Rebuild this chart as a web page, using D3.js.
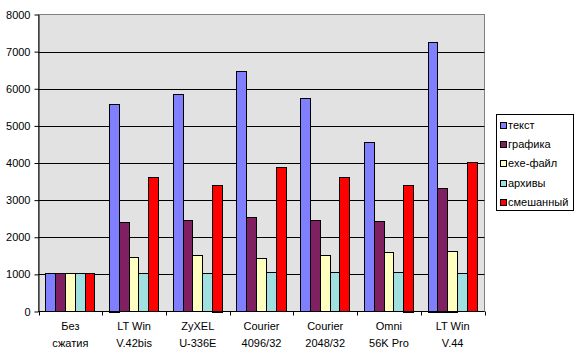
<!DOCTYPE html>
<html>
<head>
<meta charset="utf-8">
<script src="https://cdn.jsdelivr.net/npm/d3@7"></script>
<style>
  body { margin: 0; background: #fff; }
  text { font-family: "Liberation Sans", Arial, sans-serif; }
</style>
</head>
<body>
<svg id="chart" width="576" height="354"></svg>
<script>
let categories = [["Без", "сжатия"], ["LT Win", "V.42bis"], ["ZyXEL", "U-336E"], ["Courier", "4096/32"],
                  ["Courier", "2048/32"], ["Omni", "56K Pro"], ["LT Win", "V.44"]]
let seriesNames = ["текст", "графика", "exe-файл", "архивы", "смешанный"]
let colors = ["#8080FF", "#802060", "#FFFFC0", "#A0E0E0", "#FF0000"]

let text    = [1030, 5600, 5850, 6470, 5750, 4560, 7270]
let graphic = [1030, 2400, 2455, 2540, 2455, 2430, 3340]
let exe     = [1030, 1460, 1510, 1430, 1510, 1590, 1630]
let archive = [1030, 1030, 1030, 1055, 1055, 1055, 1030]
let mixed   = [1030, 3620, 3420, 3890, 3620, 3420, 4020]
let series = [text, graphic, exe, archive, mixed]

let yTicks = [0, 1000, 2000, 3000, 4000, 5000, 6000, 7000, 8000]

let svg = d3.select('#chart')
let plotL = 38.5, plotR = 484.5, plotT = 14.5, plotB = 311.5

let x = d3.scaleBand().domain(d3.range(categories.length)).range([plotL, plotR])
let inner = d3.scaleBand().domain(d3.range(series.length))
    .range([0, x.bandwidth()]).paddingOuter(0.75).paddingInner(0)
let y = d3.scaleLinear().domain([0, 8000]).range([plotB, plotT])

// plot background
svg.append('rect')
    .attr('x', plotL).attr('y', plotT)
    .attr('width', plotR - plotL).attr('height', plotB - plotT)
    .attr('fill', '#E2E2E2').attr('stroke', '#808080')

// gridlines
svg.selectAll('line.grid')
    .data(yTicks.filter(d => d > 0 && d < 8000))
    .enter()
    .append('line')
    .attr('x1', plotL).attr('x2', plotR)
    .attr('y1', d => Math.round(y(d)) + 0.5).attr('y2', d => Math.round(y(d)) + 0.5)
    .attr('stroke', '#000')

// bars (neighbouring bars share their border)
let barX0 = (i, si) => Math.floor(x(i) + inner(si))
let barX1 = (i, si) => Math.floor(x(i) + inner(si) + inner.bandwidth())
series.forEach((vals, si) => {
    svg.selectAll('rect.s' + si)
        .data(vals)
        .enter()
        .append('rect')
        .attr('x', (d, i) => barX0(i, si) + 0.5)
        .attr('y', d => Math.round(y(d)) + 0.5)
        .attr('width', (d, i) => barX1(i, si) - barX0(i, si))
        .attr('height', d => Math.round(plotB - y(d)))
        .attr('fill', colors[si])
        .attr('stroke', '#000')
})

// y axis
let yAxis = svg.append('g')
    .attr('transform', `translate(${plotL},0)`)
    .call(d3.axisLeft(y).tickValues(yTicks).tickFormat(d3.format('d')).tickSize(4).tickSizeOuter(0).tickPadding(4))
yAxis.select('.domain').attr('stroke', '#000')
yAxis.selectAll('line').attr('stroke', '#000')
yAxis.selectAll('text').attr('font-size', 11).attr('fill', '#000')
    .style('font-family', '"Liberation Sans", Arial, sans-serif')

// x axis
svg.append('line')
    .attr('x1', plotL).attr('x2', plotR).attr('y1', plotB).attr('y2', plotB)
    .attr('stroke', '#000')
svg.selectAll('line.xt')
    .data(d3.range(categories.length + 1))
    .enter()
    .append('line')
    .attr('x1', i => Math.round(plotL + i * x.step()) + 0.5)
    .attr('x2', i => Math.round(plotL + i * x.step()) + 0.5)
    .attr('y1', plotB).attr('y2', plotB + 4)
    .attr('stroke', '#000')

let labels = svg.selectAll('text.cat')
    .data(categories)
    .enter()
    .append('text')
    .attr('text-anchor', 'middle')
    .attr('font-size', 11)
labels.append('tspan').attr('x', (d, i) => x(i) + x.bandwidth() / 2).attr('y', 330).text(d => d[0])
labels.append('tspan').attr('x', (d, i) => x(i) + x.bandwidth() / 2).attr('y', 347).text(d => d[1])

// legend
let legend = svg.append('g')
legend.append('rect')
    .attr('x', 496.5).attr('y', 114.5).attr('width', 77).attr('height', 96)
    .attr('fill', '#fff').attr('stroke', '#000')
seriesNames.forEach((name, i) => {
    let yy = 125 + i * 19.2
    legend.append('rect')
        .attr('x', 500.5).attr('y', Math.round(yy - 3) + 0.5)
        .attr('width', 6).attr('height', 6)
        .attr('fill', colors[i]).attr('stroke', '#000')
    legend.append('text')
        .attr('x', 508).attr('y', yy + 4)
        .attr('font-size', 11)
        .text(name)
})
</script>
</body>
</html>
